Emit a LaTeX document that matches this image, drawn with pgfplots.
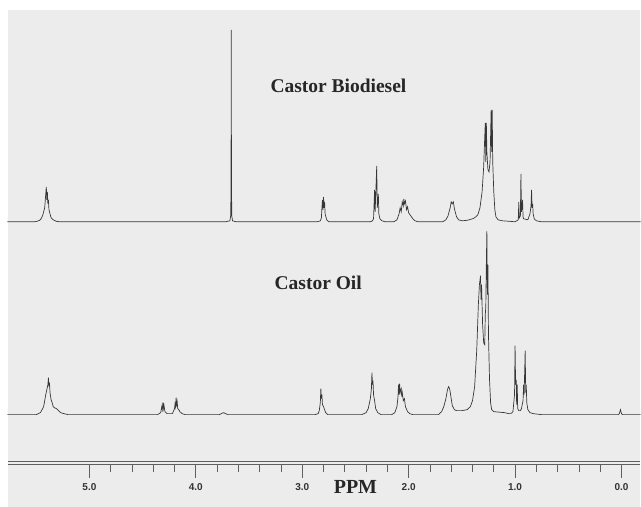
\documentclass[border=0pt]{standalone}
\usepackage{fontspec}
\setmainfont{Liberation Serif}
\newfontfamily\tickfont{Liberation Sans}
\usepackage{pgfplots}
\usepackage{pgfplotstable}
\pgfplotsset{compat=1.18}
\definecolor{bg}{RGB}{236,236,236}
\definecolor{trace}{RGB}{55,55,55}
\definecolor{axcol}{RGB}{95,95,95}

% castor biodiesel, height above its baseline
\pgfplotstableread{
ppm h
5.77 0
5.52 0
5.49 0.5
5.46 2
5.44 6
5.42 14
5.41 28
5.405 35
5.40 22
5.395 30
5.39 18
5.385 22
5.38 12
5.37 8
5.36 4
5.34 2
5.31 0.5
5.28 0
3.72 0
3.68 1
3.672 6
3.669 40
3.667 192
3.665 40
3.662 6
3.655 1
3.62 0
2.86 0
2.83 1
2.82 4
2.815 14
2.81 22
2.805 12
2.80 25
2.795 14
2.79 20
2.785 8
2.78 6
2.77 2
2.75 0
2.36 0
2.34 1
2.33 3
2.32 32
2.315 10
2.30 56
2.295 14
2.285 28
2.28 8
2.27 3
2.25 1
2.22 0
2.14 0
2.11 2
2.09 8
2.08 14
2.07 10
2.06 20
2.05 16
2.045 23
2.04 18
2.03 21
2.02 12
2.01 15
2.00 9
1.98 6
1.96 3
1.94 1
1.91 0
1.68 0
1.65 2
1.63 6
1.61 14
1.60 20
1.59 18
1.58 20
1.57 13
1.55 5
1.53 2
1.50 1
1.45 1.5
1.40 3
1.38 4
1.35 7
1.33 14
1.31 30
1.295 55
1.285 85
1.28 99
1.275 60
1.27 99
1.265 70
1.255 52
1.245 50
1.235 60
1.225 112
1.22 70
1.215 112
1.21 60
1.20 30
1.19 12
1.18 5
1.16 2
1.12 1
1.05 0.5
1.00 0
0.97 2
0.965 20
0.96 4
0.95 6
0.945 48
0.94 10
0.93 22
0.925 5
0.92 3
0.88 2
0.86 8
0.85 16
0.845 32
0.84 14
0.835 18
0.83 8
0.82 3
0.80 1
0.75 0
-0.18 0
}\biodiesel

% castor oil, height above its baseline
\pgfplotstableread{
ppm h
5.77 0
5.50 0
5.46 2
5.43 8
5.41 20
5.39 30
5.385 37
5.38 28
5.375 32
5.37 22
5.36 15
5.35 12
5.34 8
5.33 7
5.31 6
5.29 4
5.27 2
5.24 1
5.20 0
4.36 0
4.33 2
4.32 8
4.315 5
4.31 12
4.305 6
4.30 10
4.29 3
4.27 1
4.22 1
4.20 6
4.195 11
4.19 8
4.185 17
4.18 10
4.175 13
4.17 6
4.16 5
4.15 3
4.13 1
4.10 0
3.78 0
3.74 2
3.70 0
2.88 0
2.85 1
2.84 4
2.83 12
2.825 26
2.82 16
2.815 20
2.81 10
2.80 8
2.79 5
2.78 2
2.76 0
2.44 0
2.40 2
2.38 6
2.36 16
2.35 26
2.345 42
2.34 30
2.335 34
2.33 20
2.32 14
2.31 6
2.29 2
2.26 0
2.16 0
2.13 2
2.11 8
2.10 18
2.095 30
2.09 20
2.085 31
2.08 22
2.07 26
2.065 18
2.06 22
2.05 14
2.04 16
2.03 8
2.01 3
1.99 1
1.96 0
1.72 0
1.69 3
1.67 8
1.65 16
1.635 25
1.625 28
1.615 26
1.60 16
1.59 9
1.57 5
1.55 4
1.50 4
1.45 5
1.42 8
1.40 14
1.38 28
1.36 65
1.345 110
1.335 130
1.325 139
1.32 115
1.315 130
1.305 90
1.295 72
1.285 70
1.28 100
1.275 108
1.27 150
1.265 184
1.26 120
1.255 150
1.25 80
1.24 35
1.23 12
1.22 5
1.20 3
1.10 2
1.06 1
1.04 1
1.02 3
1.005 20
1.00 69
0.995 30
0.99 35
0.985 10
0.98 30
0.975 6
0.965 4
0.95 4
0.94 6
0.925 14
0.92 30
0.915 20
0.905 64
0.90 22
0.895 30
0.89 12
0.88 5
0.86 2
0.83 1
0.75 0
0.03 0
0.02 1
0.01 5
0.00 1
-0.01 0
-0.18 0
}\castoroil

\begin{document}
\begin{tikzpicture}[x=1pt,y=1pt]
\fill[white] (0,0) rectangle (641,507);
\fill[bg] (8,0) rectangle (641,497);
\begin{axis}[at={(8pt,42pt)},anchor=south west,
	scale only axis,width=633pt,height=455pt,
	xmin=-0.178,xmax=5.765,ymin=0,ymax=455,
	x dir=reverse,clip=false,
	axis x line*=bottom,axis y line=none,
	axis line style={axcol,line width=0.9pt},
	xtick={0,1,2,3,4,5},minor x tick num=4,
	tick align=outside,tick style={axcol,line width=0.8pt},
	major tick length=13pt,minor tick length=7pt,
	xticklabel={\pgfmathprintnumber[fixed,fixed zerofill,precision=1]{\tick}},
	/pgf/number format/assume math mode=true,
	xticklabel style={font=\tickfont\fontsize{10}{10}\selectfont\bfseries,text=black!80,yshift=-2pt}]
\draw[axcol,line width=0.9pt] (axis cs:5.765,3.5) -- (axis cs:-0.178,3.5);
\addplot[trace,line width=0.7pt,mark=none] table[x=ppm,y expr=\thisrow{h}+243] {\biodiesel};
\addplot[trace,line width=0.7pt,mark=none] table[x=ppm,y expr=\thisrow{h}+50] {\castoroil};
\node[font=\fontsize{19.5}{19.5}\selectfont\bfseries,text=black!85] at (axis cs:2.66,379) {Castor Biodiesel};
\node[font=\fontsize{19.5}{19.5}\selectfont\bfseries,text=black!85] at (axis cs:2.85,182) {Castor Oil};
\node[font=\fontsize{20}{20}\selectfont\bfseries,text=black!85] at (axis cs:2.50,-22) {PPM};
\end{axis}
\end{tikzpicture}
\end{document}
